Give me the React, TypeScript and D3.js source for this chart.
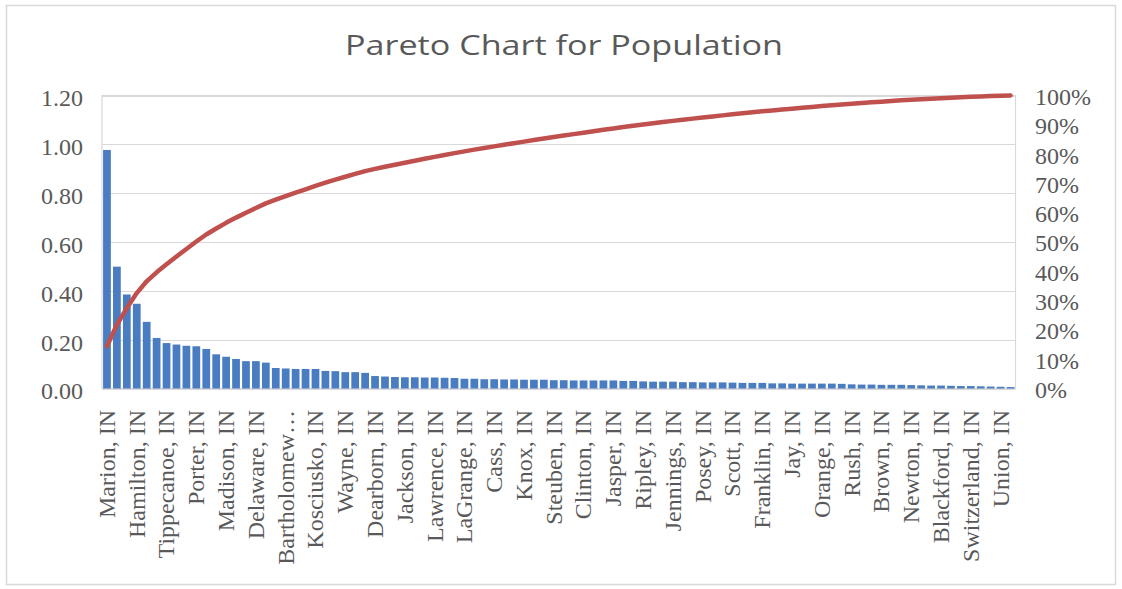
import React, { useEffect, useRef } from 'react';
import * as d3 from 'd3';

// Indiana counties, sorted by population (largest first)
const counties: string[] = [
  'Marion, IN', 'Lake, IN', 'Allen, IN', 'Hamilton, IN', 'St. Joseph, IN', 'Elkhart, IN',
  'Tippecanoe, IN', 'Vanderburgh, IN', 'Hendricks, IN', 'Porter, IN', 'Johnson, IN', 'Monroe, IN',
  'Madison, IN', 'Clark, IN', 'LaPorte, IN', 'Delaware, IN', 'Vigo, IN', 'Howard, IN',
  'Bartholomew, IN', 'Floyd, IN', 'Hancock, IN', 'Kosciusko, IN', 'Morgan, IN', 'Boone, IN',
  'Wayne, IN', 'Grant, IN', 'Warrick, IN', 'Dearborn, IN', 'Henry, IN', 'Noble, IN',
  'Jackson, IN', 'Marshall, IN', 'Shelby, IN', 'Lawrence, IN', 'Dubois, IN', 'DeKalb, IN',
  'LaGrange, IN', 'Harrison, IN', 'Montgomery, IN', 'Cass, IN', 'Putnam, IN', 'Huntington, IN',
  'Knox, IN', 'Miami, IN', 'Adams, IN', 'Steuben, IN', 'Whitley, IN', 'Daviess, IN',
  'Clinton, IN', 'Jefferson, IN', 'Gibson, IN', 'Jasper, IN', 'Wabash, IN', 'Greene, IN',
  'Ripley, IN', 'Washington, IN', 'Wells, IN', 'Jennings, IN', 'Decatur, IN', 'Clay, IN',
  'Posey, IN', 'White, IN', 'Randolph, IN', 'Scott, IN', 'Fayette, IN', 'Starke, IN',
  'Franklin, IN', 'Owen, IN', 'Sullivan, IN', 'Jay, IN', 'Fulton, IN', 'Carroll, IN',
  'Orange, IN', 'Spencer, IN', 'Perry, IN', 'Rush, IN', 'Fountain, IN', 'Parke, IN',
  'Brown, IN', 'Vermillion, IN', 'Tipton, IN', 'Newton, IN', 'Pulaski, IN', 'Pike, IN',
  'Blackford, IN', 'Crawford, IN', 'Martin, IN', 'Switzerland, IN', 'Benton, IN', 'Warren, IN',
  'Union, IN', 'Ohio, IN',
];

// Population in millions
const populationMillions: number[] = [
  0.977, 0.499, 0.385, 0.347, 0.273, 0.207, 0.186, 0.180, 0.175, 0.173,
  0.162, 0.140, 0.130, 0.121, 0.112, 0.112, 0.106, 0.084, 0.082, 0.080,
  0.080, 0.080, 0.072, 0.071, 0.067, 0.067, 0.064, 0.051, 0.049, 0.047,
  0.046, 0.046, 0.045, 0.045, 0.044, 0.043, 0.040, 0.040, 0.038, 0.038,
  0.037, 0.037, 0.036, 0.036, 0.036, 0.034, 0.034, 0.033, 0.033, 0.033,
  0.033, 0.033, 0.031, 0.031, 0.029, 0.028, 0.028, 0.028, 0.026, 0.026,
  0.025, 0.025, 0.025, 0.024, 0.023, 0.023, 0.023, 0.021, 0.021, 0.020,
  0.020, 0.020, 0.020, 0.020, 0.019, 0.017, 0.016, 0.016, 0.015, 0.015,
  0.015, 0.014, 0.013, 0.012, 0.012, 0.011, 0.010, 0.010, 0.009, 0.008,
  0.007, 0.006,
];

const leftTicks: number[] = [0, 0.2, 0.4, 0.6, 0.8, 1.0, 1.2];
const rightTicks: number[] = [0, 0.1, 0.2, 0.3, 0.4, 0.5, 0.6, 0.7, 0.8, 0.9, 1.0];
const labelEvery = 3;
const chartTitle = 'Pareto Chart for Population';

const W = 1122;
const H = 589;
const plot = { left: 102, right: 1015.5, top: 95.5, bottom: 388.5 };
const serif = '"Liberation Serif", "Times New Roman", serif';
const textGray = '#595959';
const gridGray = '#d9d9d9';
const barBlue = '#4a7cc2';
const lineRed = '#c0504d';

export default function App() {
  const ref = useRef<SVGSVGElement>(null);

  useEffect(() => {
    const svg = d3.select(ref.current);
    svg.selectAll('*').remove();

    const total = d3.sum(populationMillions);
    const cumulative = d3.cumsum(populationMillions).map((c) => c / total);

    const x = d3
      .scaleBand<string>()
      .domain(counties)
      .range([plot.left, plot.right])
      .paddingInner(0.22)
      .paddingOuter(0.11);
    const yLeft = d3.scaleLinear().domain([0, 1.2]).range([plot.bottom, plot.top]);
    const yRight = d3.scaleLinear().domain([0, 1]).range([plot.bottom, plot.top]);

    // chart frame
    svg
      .append('rect')
      .attr('x', 6.5)
      .attr('y', 5.5)
      .attr('width', W - 13)
      .attr('height', H - 10)
      .attr('fill', '#fff')
      .attr('stroke', gridGray)
      .attr('stroke-width', 1.5);

    // title
    svg
      .append('text')
      .attr('x', 564)
      .attr('y', 55)
      .attr('text-anchor', 'middle')
      .attr('font-family', '"Open Sans", "Noto Sans", sans-serif')
      .attr('font-size', 28)
      .attr('fill', textGray)
      .attr('textLength', 438)
      .attr('lengthAdjust', 'spacingAndGlyphs')
      .text(chartTitle);

    // gridlines
    svg
      .append('g')
      .selectAll('line')
      .data(leftTicks)
      .join('line')
      .attr('x1', plot.left)
      .attr('x2', plot.right)
      .attr('y1', (d) => Math.round(yLeft(d)) + 0.5)
      .attr('y2', (d) => Math.round(yLeft(d)) + 0.5)
      .attr('stroke', gridGray)
      .attr('stroke-width', 1.2);

    // plot area border
    svg
      .append('rect')
      .attr('x', plot.left)
      .attr('y', plot.top)
      .attr('width', plot.right - plot.left)
      .attr('height', plot.bottom - plot.top)
      .attr('fill', 'none')
      .attr('stroke', gridGray)
      .attr('stroke-width', 1.2);

    // bars
    svg
      .append('g')
      .selectAll('rect')
      .data(populationMillions)
      .join('rect')
      .attr('x', (_, i) => x(counties[i]) as number)
      .attr('width', x.bandwidth())
      .attr('y', (d) => yLeft(d))
      .attr('height', (d) => yLeft(0) - yLeft(d))
      .attr('fill', barBlue);

    // cumulative percentage line
    const line = d3
      .line<number>()
      .x((_, i) => (x(counties[i]) as number) + x.bandwidth() / 2)
      .y((d) => yRight(d));
    svg
      .append('path')
      .datum(cumulative)
      .attr('d', line)
      .attr('fill', 'none')
      .attr('stroke', lineRed)
      .attr('stroke-width', 4.5)
      .attr('stroke-linejoin', 'round')
      .attr('stroke-linecap', 'round');

    // left axis labels
    svg
      .append('g')
      .selectAll('text')
      .data(leftTicks)
      .join('text')
      .attr('x', 83)
      .attr('y', (d) => yLeft(d) + 2.5)
      .attr('dy', '0.35em')
      .attr('text-anchor', 'end')
      .attr('font-family', serif)
      .attr('font-size', 24)
      .attr('fill', textGray)
      .text((d) => d3.format('.2f')(d));

    // right axis labels
    svg
      .append('g')
      .selectAll('text')
      .data(rightTicks)
      .join('text')
      .attr('x', 1035)
      .attr('y', (d) => yRight(d) + 1)
      .attr('dy', '0.35em')
      .attr('text-anchor', 'start')
      .attr('font-family', serif)
      .attr('font-size', 24)
      .attr('fill', textGray)
      .text((d) => d3.format('.0%')(d));

    // category labels (every third county), rotated; long names get an ellipsis
    const shown = counties.filter((_, i) => i % labelEvery === 0);
    const maxLabel = 162;
    svg
      .append('g')
      .selectAll('text')
      .data(shown)
      .join('text')
      .attr('transform', (d) => `translate(${(x(d) as number) + x.bandwidth() / 2},410) rotate(-90)`)
      .attr('dy', '0.33em')
      .attr('text-anchor', 'end')
      .attr('font-family', serif)
      .attr('font-size', 24)
      .attr('fill', textGray)
      .text((d) => d)
      .each(function (d) {
        const el = this as SVGTextElement;
        if (el.getComputedTextLength() > maxLabel) {
          let s = d;
          while (s.length > 1) {
            s = s.slice(0, -1);
            el.textContent = s.replace(/[,\s]+$/, '') + '…';
            if (el.getComputedTextLength() <= maxLabel) break;
          }
        }
      });
  }, []);

  return (
    <svg
      ref={ref}
      width={W}
      height={H}
      style={{ position: 'absolute', left: 0, top: 0, background: '#fff' }}
    />
  );
}
